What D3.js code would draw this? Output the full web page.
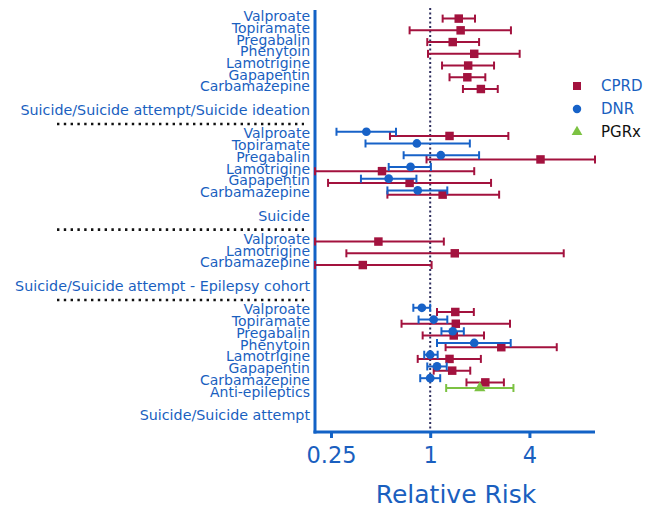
<!DOCTYPE html>
<html>
<head>
<meta charset="utf-8">
<script src="https://cdn.jsdelivr.net/npm/d3@7"></script>
<style>
  html, body { margin: 0; padding: 0; background: #ffffff; }
  svg { display: block; }
</style>
</head>
<body>
<svg id="chart" width="661" height="509"></svg>
<script>
// ---------------- data ----------------
const groupHeaders = [
  "Suicide/Suicide attempt/Suicide ideation",
  "Suicide",
  "Suicide/Suicide attempt - Epilepsy cohort",
  "Suicide/Suicide attempt"
];
const groupDrugs = [
  ["Valproate", "Topiramate", "Pregabalin", "Phenytoin", "Lamotrigine", "Gapapentin", "Carbamazepine"],
  ["Valproate", "Topiramate", "Pregabalin", "Lamotrigine", "Gapapentin", "Carbamazepine"],
  ["Valproate", "Lamotrigine", "Carbamazepine"],
  ["Valproate", "Topiramate", "Pregabalin", "Phenytoin", "Lamotrigine", "Gapapentin", "Carbamazepine", "Anti-epileptics"]
];
const seriesNames = ["CPRD", "DNR", "PGRx"];
const tickValues = [0.25, 1, 4];
const tickLabels = ["0.25", "1", "4"];
const axisTitle = "Relative Risk";

// [group, drug, relative risk, lower CI, upper CI]
const cprd = [
  [0, "Valproate", 1.49, 1.19, 1.87],
  [0, "Topiramate", 1.53, 0.75, 3.09],
  [0, "Pregabalin", 1.37, 0.96, 1.98],
  [0, "Phenytoin", 1.85, 0.97, 3.49],
  [0, "Lamotrigine", 1.70, 1.18, 2.44],
  [0, "Gapapentin", 1.68, 1.31, 2.16],
  [0, "Carbamazepine", 2.03, 1.58, 2.57],
  [1, "Valproate", 1.31, 0.57, 2.98],
  [1, "Pregabalin", 4.67, 0.95, 10],
  [1, "Lamotrigine", 0.51, 0.2, 1.85],
  [1, "Gapapentin", 0.75, 0.24, 2.34],
  [1, "Carbamazepine", 1.19, 0.55, 2.62],
  [2, "Valproate", 0.485, 0.2, 1.21],
  [2, "Lamotrigine", 1.41, 0.31, 6.46],
  [2, "Carbamazepine", 0.39, 0.2, 1.02],
  [3, "Valproate", 1.42, 1.10, 1.84],
  [3, "Topiramate", 1.43, 0.67, 3.05],
  [3, "Pregabalin", 1.39, 0.90, 2.12],
  [3, "Phenytoin", 2.70, 1.24, 5.86],
  [3, "Lamotrigine", 1.31, 0.84, 2.03],
  [3, "Gapapentin", 1.36, 1.05, 1.75],
  [3, "Carbamazepine", 2.16, 1.66, 2.80]
];
const dnr = [
  [1, "Valproate", 0.41, 0.27, 0.62],
  [1, "Topiramate", 0.83, 0.405, 1.74],
  [1, "Pregabalin", 1.16, 0.69, 1.98],
  [1, "Lamotrigine", 0.76, 0.56, 1.01],
  [1, "Gapapentin", 0.56, 0.38, 0.825],
  [1, "Carbamazepine", 0.84, 0.55, 1.27],
  [3, "Valproate", 0.89, 0.79, 1.00],
  [3, "Topiramate", 1.05, 0.85, 1.27],
  [3, "Pregabalin", 1.37, 1.17, 1.60],
  [3, "Phenytoin", 1.85, 1.10, 3.08],
  [3, "Lamotrigine", 1.00, 0.92, 1.11],
  [3, "Gapapentin", 1.10, 0.96, 1.26],
  [3, "Carbamazepine", 1.00, 0.87, 1.15]
];
const pgrx = [
  [3, "Anti-epileptics", 2.00, 1.25, 3.20]
];

// ---------------- layout ----------------
const BLUE_TEXT = "#1a5fbf";
const AXIS_BLUE = "#1262c6";
const colors = { CPRD: "#a3123e", DNR: "#1762c8", PGRx: "#7cc242" };
const offsets = { CPRD: 2.6, DNR: -1.6, PGRx: -3.5 };

const svg = d3.select("#chart");
const FONT = "'DejaVu Sans', Verdana, sans-serif";

// slot layout: drugs, blank, header, separator, next group
const slots = [];
let s = 0;
const drugSlot = {};
const separators = [];
groupDrugs.forEach((drugs, g) => {
  drugs.forEach((d, i) => {
    slots.push({ type: "drug", text: d, slot: s + i });
    drugSlot[g + "|" + d] = s + i;
  });
  slots.push({ type: "header", text: groupHeaders[g], slot: s + drugs.length + 1 });
  if (g < groupDrugs.length - 1) separators.push(s + drugs.length + 2.2);
  s += drugs.length + 3;
});
const maxSlot = s - 2;

const x = d3.scaleLog().domain([0.2, 10]).range([315, 595]);
const y = d3.scaleLinear().domain([0, maxSlot]).range([16, 415]);

const plotTop = 10, plotBottom = 432;

// reference line at RR = 1
svg.append("line")
  .attr("x1", x(1)).attr("x2", x(1))
  .attr("y1", 8).attr("y2", plotBottom)
  .attr("stroke", "#2e2e5e").attr("stroke-width", 2)
  .attr("stroke-dasharray", "2,2.5");

// separators
svg.selectAll("line.sep").data(separators).enter().append("line")
  .attr("class", "sep")
  .attr("x1", 57).attr("x2", 304)
  .attr("y1", d => y(d)).attr("y2", d => y(d))
  .attr("stroke", "#111").attr("stroke-width", 2.6)
  .attr("stroke-dasharray", "2.4,4.4");

// row labels
svg.selectAll("text.row").data(slots).enter().append("text")
  .attr("class", "row")
  .attr("x", 310)
  .attr("y", d => y(d.slot))
  .attr("dy", "0.36em")
  .attr("text-anchor", "end")
  .attr("font-family", FONT)
  .attr("font-size", d => d.type === "header" ? 14.3 : 14)
  .attr("fill", BLUE_TEXT)
  .text(d => d.text);

// x axis
const xAxis = d3.axisBottom(x)
  .tickValues(tickValues)
  .tickFormat((d, i) => tickLabels[i])
  .tickSize(6)
  .tickSizeOuter(0)
  .tickPadding(9);
const gx = svg.append("g").attr("transform", `translate(0,${plotBottom})`).call(xAxis);
gx.select(".domain").attr("stroke", AXIS_BLUE).attr("stroke-width", 3)
  .attr("d", `M${x.range()[0] - 1.5},0H${x.range()[1]}`);
gx.selectAll(".tick line").attr("stroke", AXIS_BLUE).attr("stroke-width", 3);
gx.selectAll(".tick text")
  .attr("fill", BLUE_TEXT)
  .attr("font-family", FONT)
  .attr("font-size", 22.5);

// y axis line
svg.append("line")
  .attr("x1", 315).attr("x2", 315)
  .attr("y1", plotTop).attr("y2", plotBottom + 1.5)
  .attr("stroke", AXIS_BLUE).attr("stroke-width", 3);

// axis title
svg.append("text")
  .attr("x", 456).attr("y", 503)
  .attr("text-anchor", "middle")
  .attr("font-family", FONT)
  .attr("font-size", 25)
  .attr("fill", BLUE_TEXT)
  .text(axisTitle);

// ---------------- series ----------------
function drawSeries(data, name, symbolType, symbolSize) {
  const col = colors[name];
  const g = svg.append("g").attr("class", "series-" + name);
  const rows = data.map(r => ({
    y: y(drugSlot[r[0] + "|" + r[1]]) + offsets[name],
    rr: r[2], lo: r[3], hi: r[4]
  }));
  g.selectAll("line.ci").data(rows).enter().append("line")
    .attr("x1", d => x(d.lo)).attr("x2", d => x(d.hi))
    .attr("y1", d => d.y).attr("y2", d => d.y)
    .attr("stroke", col).attr("stroke-width", 2);
  g.selectAll("line.capL").data(rows).enter().append("line")
    .attr("x1", d => x(d.lo)).attr("x2", d => x(d.lo))
    .attr("y1", d => d.y - 4).attr("y2", d => d.y + 4)
    .attr("stroke", col).attr("stroke-width", 2);
  g.selectAll("line.capR").data(rows).enter().append("line")
    .attr("x1", d => x(d.hi)).attr("x2", d => x(d.hi))
    .attr("y1", d => d.y - 4).attr("y2", d => d.y + 4)
    .attr("stroke", col).attr("stroke-width", 2);
  g.selectAll("path.pt").data(rows).enter().append("path")
    .attr("transform", d => `translate(${x(d.rr)},${d.y})`)
    .attr("d", d3.symbol().type(symbolType).size(symbolSize))
    .attr("fill", col);
}
drawSeries(cprd, "CPRD", d3.symbolSquare, 72);
drawSeries(dnr, "DNR", d3.symbolCircle, 60);
drawSeries(pgrx, "PGRx", d3.symbolTriangle, 55);

// ---------------- legend ----------------
const legendSymbols = { CPRD: d3.symbolSquare, DNR: d3.symbolCircle, PGRx: d3.symbolTriangle };
const legendSizes = { CPRD: 64, DNR: 56, PGRx: 50 };
const legendText = { CPRD: BLUE_TEXT, DNR: BLUE_TEXT, PGRx: "#111" };
const legY = d3.scalePoint().domain(seriesNames).range([86, 132]);
const leg = svg.append("g");
seriesNames.forEach(n => {
  leg.append("path")
    .attr("transform", `translate(577,${legY(n)})`)
    .attr("d", d3.symbol().type(legendSymbols[n]).size(legendSizes[n]))
    .attr("fill", colors[n]);
  leg.append("text")
    .attr("x", 601).attr("y", legY(n)).attr("dy", "0.36em")
    .attr("font-family", FONT).attr("font-size", 15)
    .attr("fill", legendText[n])
    .text(n);
});
</script>
</body>
</html>
